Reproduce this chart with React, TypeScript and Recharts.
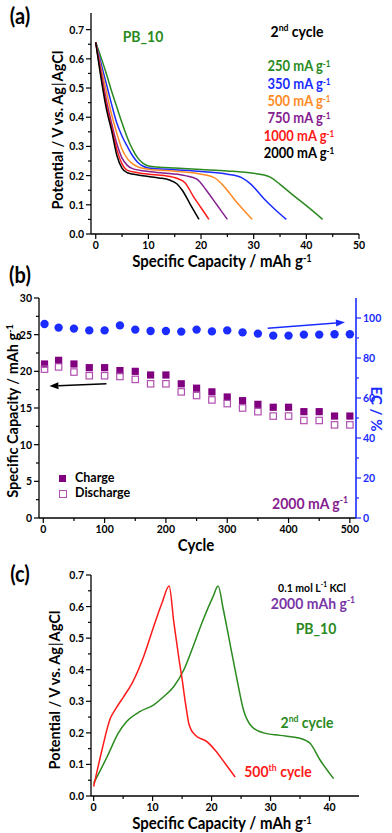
import React from "react";
import { ComposedChart, Line, LineChart, ReferenceLine, Scatter, XAxis, YAxis } from "recharts";

// (a) discharge curves, 2nd cycle, per current density
const capA250 = [0, 1, 2, 3, 4, 5, 6, 7, 8, 9, 10, 12, 15, 20, 25, 30, 32, 33.3, 35, 37, 40, 43.1];
const potA250 = [0.656, 0.605, 0.55, 0.49, 0.435, 0.38, 0.33, 0.29, 0.26, 0.242, 0.233, 0.229, 0.226, 0.221, 0.216, 0.208, 0.202, 0.193, 0.17, 0.14, 0.097, 0.05];
const capA350 = [0, 1, 2, 3, 4, 5, 6, 7, 8, 9, 10, 15, 20, 25, 27.7, 29.5, 32, 34, 36.2];
const potA350 = [0.656, 0.585, 0.515, 0.445, 0.38, 0.335, 0.3, 0.268, 0.245, 0.232, 0.226, 0.22, 0.214, 0.205, 0.193, 0.17, 0.12, 0.085, 0.05];
const capA500 = [0, 1, 2, 3, 4, 5, 6, 7, 8, 10, 15, 20, 22.5, 24, 26.5, 29.7];
const potA500 = [0.656, 0.57, 0.49, 0.41, 0.345, 0.29, 0.258, 0.24, 0.23, 0.222, 0.215, 0.205, 0.193, 0.17, 0.115, 0.05];
const capA750 = [0, 1, 2, 3, 4, 5, 6, 7, 10, 14, 17, 19.2, 21, 23, 25];
const potA750 = [0.656, 0.555, 0.46, 0.38, 0.31, 0.26, 0.235, 0.224, 0.214, 0.207, 0.2, 0.188, 0.15, 0.1, 0.05];
const capA1000 = [0, 1, 2, 3, 4, 5, 6, 8, 10, 13, 15.5, 17, 18.5, 20, 21.5];
const potA1000 = [0.656, 0.545, 0.445, 0.365, 0.29, 0.24, 0.218, 0.21, 0.205, 0.2, 0.19, 0.175, 0.13, 0.09, 0.05];
const capA2000 = [0, 1, 2, 3, 4, 5, 6, 8, 10, 12, 14, 15.4, 16.5, 18, 19.6];
const potA2000 = [0.656, 0.535, 0.43, 0.355, 0.27, 0.225, 0.21, 0.202, 0.197, 0.192, 0.185, 0.172, 0.148, 0.1, 0.05];

// (b) cycling at 2000 mA g-1
const cycles = [2, 25, 50, 75, 100, 125, 150, 175, 200, 225, 250, 275, 300, 325, 350, 375, 400, 425, 450, 475, 500];
const chargeCap = [21.0, 21.5, 21.0, 20.5, 20.5, 20.1, 20.0, 19.5, 19.5, 18.3, 17.7, 17.2, 16.5, 16.0, 15.5, 15.1, 15.1, 14.5, 14.5, 13.9, 13.9];
const dischargeCap = [20.3, 20.6, 19.9, 19.4, 19.4, 19.3, 18.9, 18.3, 18.3, 17.2, 16.7, 16.1, 15.6, 15.0, 14.5, 13.9, 13.9, 13.3, 13.3, 12.7, 12.7];
const ecPct = [97.0, 95.2, 94.7, 93.8, 93.8, 96.3, 94.2, 93.5, 93.5, 93.2, 94.2, 93.3, 93.8, 92.8, 92.2, 91.2, 91.2, 91.7, 91.7, 91.9, 91.9];

// (c) charge/discharge, 2nd vs 500th cycle
const capC2 = [0, 2.3, 4.2, 5.6, 7.9, 10.2, 11.9, 13.6, 15.3, 16.9, 18.6, 20.3, 21.1, 22.0, 23.2, 24.3, 25.4, 26.8, 28.8, 31.6, 35.0, 36.7, 38.4, 40.7];
const potC2 = [0.04, 0.125, 0.2, 0.236, 0.268, 0.289, 0.315, 0.347, 0.4, 0.475, 0.56, 0.634, 0.665, 0.59, 0.475, 0.37, 0.273, 0.22, 0.2, 0.192, 0.183, 0.167, 0.114, 0.055];
const capC500 = [0, 1.4, 2.8, 3.7, 5.1, 6.5, 8.5, 10.2, 11.6, 12.8, 13.6, 14.5, 15.0, 15.6, 16.2, 17.2, 19.2, 20.6, 22.3, 24.0];
const potC500 = [0.03, 0.145, 0.245, 0.275, 0.315, 0.357, 0.443, 0.538, 0.612, 0.665, 0.55, 0.43, 0.37, 0.29, 0.225, 0.193, 0.172, 0.145, 0.103, 0.06];

// ticks (major + minor)
const potTicks = [0, 0.05, 0.1, 0.15, 0.2, 0.25, 0.3, 0.35, 0.4, 0.45, 0.5, 0.55, 0.6, 0.65, 0.7];
const capTicksA = [0, 5, 10, 15, 20, 25, 30, 35, 40, 45, 50];
const capTicksC = [0, 5, 10, 15, 20, 25, 30, 35, 40];
const cycleTicks = [0, 50, 100, 150, 200, 250, 300, 350, 400, 450, 500];
const specCapTicks = [0, 2.5, 5, 7.5, 10, 12.5, 15, 17.5, 20, 22.5, 25, 27.5, 30];
const ecTicks = [0, 10, 20, 30, 40, 50, 60, 70, 80, 90, 100];

const GREEN = "#2a8a1e";
const BLUE = "#1a2cff";
const ORANGE = "#ff8a26";
const PURPLE = "#85208f";
const RED = "#ff1a1a";
const FONT = "Lato, 'Open Sans', sans-serif";

const pts = (xs: number[], ys: number[]) => xs.map((x, i) => ({ x, y: ys[i] }));

const makeTick =
  (side: "bottom" | "left" | "right", step: number, fmt: (v: number) => string, color = "#000") =>
  (props: any) => {
    const { x, y, payload } = props;
    const v = payload.value as number;
    const major = Math.abs(v / step - Math.round(v / step)) < 1e-6;
    const len = major ? 5 : 3;
    const common = { fill: color, fontSize: 10.5, fontWeight: 700, fontFamily: FONT };
    if (side === "bottom") {
      return (
        <g>
          <line x1={x} y1={y} x2={x} y2={y + len} stroke={color} strokeWidth={1.2} />
          {major && (
            <text x={x} y={y + len + 10} textAnchor="middle" {...common}>
              {fmt(v)}
            </text>
          )}
        </g>
      );
    }
    const dir = side === "left" ? -1 : 1;
    return (
      <g>
        <line x1={x} y1={y} x2={x + dir * len} y2={y} stroke={color} strokeWidth={1.2} />
        {major && (
          <text x={x + dir * (len + 2)} y={y + 4} textAnchor={side === "left" ? "end" : "start"} {...common}>
            {fmt(v)}
          </text>
        )}
      </g>
    );
  };

const f0 = (v: number) => String(Math.round(v));
const f1 = (v: number) => v.toFixed(1);

const Sup = ({ children }: { children: React.ReactNode }) => (
  <span style={{ fontSize: "0.62em", position: "relative", top: "-0.55em" }}>{children}</span>
);

// the source figure is slightly stretched vertically, so flat text gets a small scaleY
const Txt = ({ cx, cy, size = 14, color = "#000", rot = 0, children }: any) => (
  <div
    style={{
      position: "absolute",
      left: cx,
      top: cy,
      transform: rot ? `translate(-50%,-50%) rotate(${rot}deg)` : "translate(-50%,-50%) scaleY(1.12)",
      fontSize: size,
      color,
      fontWeight: 700,
      whiteSpace: "nowrap",
      lineHeight: 1.1,
      fontFamily: FONT,
    }}
  >
    {children}
  </div>
);

const axisStyle = { stroke: "#000", strokeWidth: 1.3 };

const arrowShape = (color: string) => (p: any) => {
  const { x1, y1, x2, y2 } = p;
  const a = Math.atan2(y2 - y1, x2 - x1);
  const L = 9;
  const W = 3.5;
  const bx = x2 - L * Math.cos(a);
  const by = y2 - L * Math.sin(a);
  const nx = -Math.sin(a) * W;
  const ny = Math.cos(a) * W;
  return (
    <g>
      <line x1={x1} y1={y1} x2={bx} y2={by} stroke={color} strokeWidth={1.5} />
      <polygon points={`${x2},${y2} ${bx + nx},${by + ny} ${bx - nx},${by - ny}`} fill={color} />
    </g>
  );
};

function PanelA() {
  const series = [
    { c: capA250, p: potA250, color: GREEN },
    { c: capA350, p: potA350, color: BLUE },
    { c: capA500, p: potA500, color: ORANGE },
    { c: capA750, p: potA750, color: PURPLE },
    { c: capA1000, p: potA1000, color: RED },
    { c: capA2000, p: potA2000, color: "#000" },
  ];
  return (
    <LineChart width={392} height={280} margin={{ top: 13, right: 33, left: 51, bottom: 16 }}>
      <XAxis
        type="number"
        dataKey="x"
        domain={[-0.9, 50]}
        ticks={capTicksA}
        interval={0}
        tickSize={0}
        tickMargin={0}
        tickLine={false}
        axisLine={axisStyle}
        tick={makeTick("bottom", 10, f0)}
        height={30}
        allowDataOverflow
      />
      <XAxis xAxisId="top" orientation="top" type="number" domain={[-0.9, 50]} tick={false} tickLine={false} axisLine={axisStyle} height={0} />
      <YAxis
        type="number"
        domain={[0, 0.757]}
        ticks={potTicks}
        interval={0}
        tickSize={0}
        tickMargin={0}
        tickLine={false}
        axisLine={axisStyle}
        tick={makeTick("left", 0.1, f1)}
        width={40}
        allowDataOverflow
      />
      <YAxis yAxisId="r" orientation="right" type="number" domain={[0, 1]} tick={false} tickLine={false} axisLine={axisStyle} width={0} />
      {series.map((s, i) => (
        <Line
          key={i}
          data={pts(s.c, s.p)}
          dataKey="y"
          type="monotone"
          stroke={s.color}
          strokeWidth={1.5}
          dot={false}
          isAnimationActive={false}
        />
      ))}
    </LineChart>
  );
}

function PanelB() {
  const charge = cycles.map((c, i) => ({ cycle: c, v: chargeCap[i] }));
  const discharge = cycles.map((c, i) => ({ cycle: c, v: dischargeCap[i] }));
  const ec = cycles.map((c, i) => ({ cycle: c, v: ecPct[i] }));
  return (
    <ComposedChart width={392} height={290} margin={{ top: 28, right: 6, left: 9, bottom: 12 }}>
      <XAxis
        type="number"
        dataKey="cycle"
        domain={[-7, 510]}
        ticks={cycleTicks}
        interval={0}
        tickSize={0}
        tickMargin={0}
        tickLine={false}
        axisLine={axisStyle}
        tick={makeTick("bottom", 100, f0)}
        height={30}
        allowDataOverflow
      />
      <XAxis xAxisId="top" orientation="top" type="number" domain={[-7, 510]} tick={false} tickLine={false} axisLine={axisStyle} height={0} />
      <YAxis
        yAxisId="left"
        type="number"
        dataKey="v"
        domain={[0, 30]}
        ticks={specCapTicks}
        interval={0}
        tickSize={0}
        tickMargin={0}
        tickLine={false}
        axisLine={axisStyle}
        tick={makeTick("left", 5, f0)}
        width={30}
        allowDataOverflow
      />
      <YAxis
        yAxisId="right"
        orientation="right"
        type="number"
        dataKey="v"
        domain={[0, 110]}
        ticks={ecTicks}
        interval={0}
        tickSize={0}
        tickMargin={0}
        tickLine={false}
        axisLine={{ stroke: BLUE, strokeWidth: 1.6 }}
        tick={makeTick("right", 20, f0, BLUE)}
        width={30}
        allowDataOverflow
      />
      <Scatter
        data={ec}
        yAxisId="right"
        isAnimationActive={false}
        shape={(p: any) => <circle cx={p.cx} cy={p.cy} r={4.2} fill={BLUE} />}
      />
      <Scatter
        data={charge}
        yAxisId="left"
        isAnimationActive={false}
        shape={(p: any) => <rect x={p.cx - 3.6} y={p.cy - 3.6} width={7.2} height={7.2} fill="#800080" />}
      />
      <Scatter
        data={discharge}
        yAxisId="left"
        isAnimationActive={false}
        shape={(p: any) => (
          <rect x={p.cx - 3.2} y={p.cy - 3.2} width={6.4} height={6.4} fill="none" stroke="#b050b0" strokeWidth={1.2} />
        )}
      />
      <ReferenceLine
        yAxisId="left"
        segment={[
          { x: 103, y: 18.3 },
          { x: 10, y: 18.0 },
        ]}
        shape={arrowShape("#000")}
      />
      <ReferenceLine
        yAxisId="right"
        segment={[
          { x: 366, y: 94.9 },
          { x: 492, y: 97.9 },
        ]}
        shape={arrowShape(BLUE)}
      />
    </ComposedChart>
  );
}

function PanelC() {
  return (
    <LineChart width={392} height={273} margin={{ top: 15, right: 33, left: 51, bottom: 7 }}>
      <XAxis
        type="number"
        dataKey="x"
        domain={[-0.45, 45]}
        ticks={capTicksC}
        interval={0}
        tickSize={0}
        tickMargin={0}
        tickLine={false}
        axisLine={axisStyle}
        tick={makeTick("bottom", 10, f0)}
        height={30}
        allowDataOverflow
      />
      <XAxis xAxisId="top" orientation="top" type="number" domain={[-0.45, 45]} tick={false} tickLine={false} axisLine={axisStyle} height={0} />
      <YAxis
        type="number"
        domain={[0, 0.7]}
        ticks={potTicks}
        interval={0}
        tickSize={0}
        tickMargin={0}
        tickLine={false}
        axisLine={axisStyle}
        tick={makeTick("left", 0.1, f1)}
        width={40}
        allowDataOverflow
      />
      <YAxis yAxisId="r" orientation="right" type="number" domain={[0, 1]} tick={false} tickLine={false} axisLine={axisStyle} width={0} />
      <Line data={pts(capC2, potC2)} dataKey="y" type="monotone" stroke={GREEN} strokeWidth={1.5} dot={false} isAnimationActive={false} />
      <Line data={pts(capC500, potC500)} dataKey="y" type="monotone" stroke={RED} strokeWidth={1.5} dot={false} isAnimationActive={false} />
    </LineChart>
  );
}

const potLabel = (
  <>
    Potential / V vs. Ag<span style={{ fontWeight: 400, margin: "0 1px" }}>|</span>AgCl
  </>
);
const capLabel = (
  <>
    Specific Capacity / mAh g<Sup>-1</Sup>
  </>
);

export default function App() {
  return (
    <div style={{ position: "relative", width: 392, height: 833, background: "#fff", fontFamily: FONT, overflow: "hidden" }}>
      <style>{`body{margin:0}`}</style>
      <div style={{ position: "absolute", left: 0, top: 0 }}>
        <PanelA />
      </div>
      <div style={{ position: "absolute", left: 0, top: 270 }}>
        <PanelB />
      </div>
      <div style={{ position: "absolute", left: 0, top: 560 }}>
        <PanelC />
      </div>

      {/* panel (a) */}
      <Txt cx={20} cy={15} size={20}>(a)</Txt>
      <Txt cx={143} cy={36} color={GREEN}>PB_10</Txt>
      <Txt cx={297} cy={31}>
        2<Sup>nd</Sup> cycle
      </Txt>
      <Txt cx={299} cy={66} size={13} color={GREEN}>250 mA g<Sup>-1</Sup></Txt>
      <Txt cx={299} cy={84} size={13} color={BLUE}>350 mA g<Sup>-1</Sup></Txt>
      <Txt cx={299} cy={101} size={13} color={ORANGE}>500 mA g<Sup>-1</Sup></Txt>
      <Txt cx={299} cy={118} size={13} color={PURPLE}>750 mA g<Sup>-1</Sup></Txt>
      <Txt cx={299} cy={136} size={13} color={RED}>1000 mA g<Sup>-1</Sup></Txt>
      <Txt cx={299} cy={153} size={13}>2000 mA g<Sup>-1</Sup></Txt>
      <Txt cx={58} cy={130} rot={-90} size={14.5}>{potLabel}</Txt>
      <Txt cx={222} cy={261} size={15}>{capLabel}</Txt>

      {/* panel (b) */}
      <Txt cx={20} cy={274} size={20}>(b)</Txt>
      <Txt cx={13} cy={411} rot={-90} size={14.5}>{capLabel}</Txt>
      <Txt cx={196} cy={545} size={15}>Cycle</Txt>
      <Txt cx={377} cy={409} size={15} rot={90} color={BLUE}>EC / %</Txt>
      <Txt cx={310} cy={503} color="#85208f">2000 mA g<Sup>-1</Sup></Txt>
      <div style={{ position: "absolute", left: 59, top: 475, width: 7, height: 7, background: "#800080" }} />
      <div style={{ position: "absolute", left: 59, top: 490, width: 5.6, height: 5.6, border: "1.2px solid #b050b0" }} />
      <div style={{ position: "absolute", left: 75, top: 471, fontSize: 12.5, fontWeight: 700, lineHeight: "14px" }}>Charge</div>
      <div style={{ position: "absolute", left: 75, top: 486, fontSize: 12.5, fontWeight: 700, lineHeight: "14px" }}>Discharge</div>

      {/* panel (c) */}
      <Txt cx={20} cy={573} size={20}>(c)</Txt>
      <Txt cx={312} cy={588} size={10.5}>0.1 mol L<Sup>-1</Sup> KCl</Txt>
      <Txt cx={313} cy={603} color="#7a35a8">2000 mAh g<Sup>-1</Sup></Txt>
      <Txt cx={316} cy={628} color={GREEN}>PB_10</Txt>
      <Txt cx={307} cy={722} color={GREEN}>
        2<Sup>nd</Sup> cycle
      </Txt>
      <Txt cx={278} cy={771} color={RED}>
        500<Sup>th</Sup> cycle
      </Txt>
      <Txt cx={55} cy={690} rot={-90} size={14.5}>{potLabel}</Txt>
      <Txt cx={222} cy={823} size={15}>{capLabel}</Txt>
    </div>
  );
}
